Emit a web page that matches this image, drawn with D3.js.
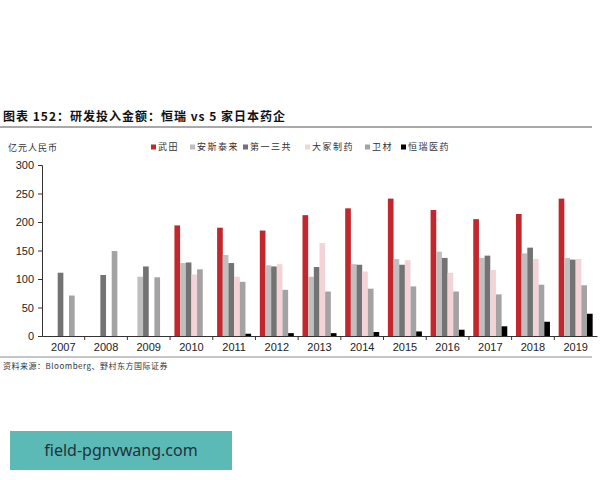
<!DOCTYPE html>
<meta charset="utf-8">
<style>
    body { margin: 0; background: #fff; }
    text { font-family: "Liberation Sans", Arial, "Noto Sans CJK SC", sans-serif; }
    .cjk { font-family: "Noto Sans CJK SC", sans-serif; }
</style>
<svg width="600" height="480"></svg>
<script src="https://d3js.org/d3.v7.min.js"></script>
<script>
    var years = ["2007", "2008", "2009", "2010", "2011", "2012", "2013", "2014", "2015", "2016", "2017", "2018", "2019"];
    var seriesNames = ["武田", "安斯泰来", "第一三共", "大冢制药", "卫材", "恒瑞医药"];
    var takeda   = [null, null, null, 194, 190, 185, 212, 224, 241, 221, 205, 214, 241];
    var astellas = [null, null, 104, 128, 142, 124, 104, 126, 135, 148, 137, 145, 137];
    var daiichi  = [111, 107, 122, 129, 128, 122, 121, 125, 125, 137, 141, 155, 134];
    var otsuka   = [null, null, null, 108, 104, 126, 163, 113, 133, 111, 116, 135, 135];
    var eisai    = [71, 149, 103, 117, 95, 81, 78, 83, 87, 78, 73, 90, 89];
    var hengrui  = [null, null, null, null, 4, 5, 5, 7, 8, 11, 17, 25, 39];
    var yTicks = [0, 50, 100, 150, 200, 250, 300];
    var colors = ["#c1272d", "#bfbfbf", "#737373", "#f3d3d8", "#a3a3a3", "#000000"];

    var series = [takeda, astellas, daiichi, otsuka, eisai, hengrui];

    var svg = d3.select("svg");

    // 标题
    svg.append("text")
        .attr("class", "cjk")
        .attr("x", 3).attr("y", 121)
        .attr("font-size", 12).attr("font-weight", "bold")
        .attr("letter-spacing", 1)
        .attr("fill", "#111")
        .text("图表 152：研发投入金额：恒瑞 vs 5 家日本药企");
    svg.append("line")
        .attr("x1", 0).attr("x2", 592).attr("y1", 127).attr("y2", 127)
        .attr("stroke", "#8c8c8c").attr("stroke-width", 1.5);

    svg.append("text")
        .attr("class", "cjk")
        .attr("x", 8).attr("y", 151)
        .attr("font-size", 9).attr("letter-spacing", 1)
        .attr("fill", "#333")
        .text("亿元人民币");

    var x = d3.scaleBand().domain(years).range([42, 597]);
    var x1 = d3.scaleBand().domain(d3.range(6)).range([0, 34]).paddingInner(0);
    var y = d3.scaleLinear().domain([0, 300]).range([336, 165]);

    // 柱子
    var groups = svg.append("g")
        .selectAll("g")
        .data(years)
        .enter().append("g")
        .attr("transform", function (d) { return "translate(" + (x(d) + (x.bandwidth() - 34) / 2) + ",0)"; });

    groups.selectAll("rect")
        .data(function (d, i) {
            return series.map(function (s, k) { return { k: k, v: s[i] }; })
                .filter(function (e) { return e.v !== null; });
        })
        .enter().append("rect")
        .attr("x", function (d) { return x1(d.k); })
        .attr("width", x1.bandwidth())
        .attr("y", function (d) { return y(d.v); })
        .attr("height", function (d) { return y(0) - y(d.v); })
        .attr("fill", function (d) { return colors[d.k]; });

    // y轴
    var yAxis = svg.append("g")
        .attr("transform", "translate(42,0)")
        .call(d3.axisLeft(y).tickValues(yTicks).tickSize(4).tickPadding(4));
    yAxis.select(".domain").attr("stroke", "#333");
    yAxis.selectAll(".tick line").attr("stroke", "#333");
    yAxis.selectAll("text").attr("font-size", 11).attr("fill", "#222")
        .style("font-family", "'Liberation Sans', Arial, sans-serif");

    // x轴
    var xAxis = svg.append("g")
        .attr("transform", "translate(0,336)")
        .call(d3.axisBottom(x).tickSize(0).tickPadding(7));
    xAxis.select(".domain").attr("stroke", "#333");
    xAxis.selectAll("text").attr("font-size", 11).attr("fill", "#222")
        .style("font-family", "'Liberation Sans', Arial, sans-serif");
    svg.append("g")
        .selectAll("line")
        .data(years.slice(1))
        .enter().append("line")
        .attr("x1", function (d) { return x(d); })
        .attr("x2", function (d) { return x(d); })
        .attr("y1", 336).attr("y2", 340)
        .attr("stroke", "#333");

    // 图例
    var legendX = [151, 190, 243, 305, 365, 401];
    var legend = svg.append("g")
        .selectAll("g")
        .data(seriesNames)
        .enter().append("g")
        .attr("transform", function (d, i) { return "translate(" + legendX[i] + ",147)"; });
    legend.append("rect")
        .attr("y", -2.5).attr("width", 5).attr("height", 5)
        .attr("fill", function (d, i) { return colors[i]; });
    legend.append("text")
        .attr("class", "cjk")
        .attr("x", 7).attr("dy", "0.35em")
        .attr("font-size", 9).attr("letter-spacing", 1.5)
        .attr("fill", "#333")
        .text(function (d) { return d; });

    // 底部
    svg.append("line")
        .attr("x1", 0).attr("x2", 592).attr("y1", 357).attr("y2", 357)
        .attr("stroke", "#8c8c8c").attr("stroke-width", 1);
    svg.append("text")
        .attr("class", "cjk")
        .attr("x", 3).attr("y", 369)
        .attr("font-size", 8).attr("letter-spacing", 0.5)
        .attr("fill", "#333")
        .text("资料来源：Bloomberg、野村东方国际证券");

    // 水印
    svg.append("rect")
        .attr("x", 10).attr("y", 431).attr("width", 222).attr("height", 39)
        .attr("fill", "#5bbab6");
    svg.append("text")
        .attr("x", 121).attr("y", 456)
        .attr("text-anchor", "middle")
        .attr("font-size", 16).attr("fill", "#1d3340")
        .style("font-family", "'Noto Sans', sans-serif")
        .text("field-pgnvwang.com");
</script>
